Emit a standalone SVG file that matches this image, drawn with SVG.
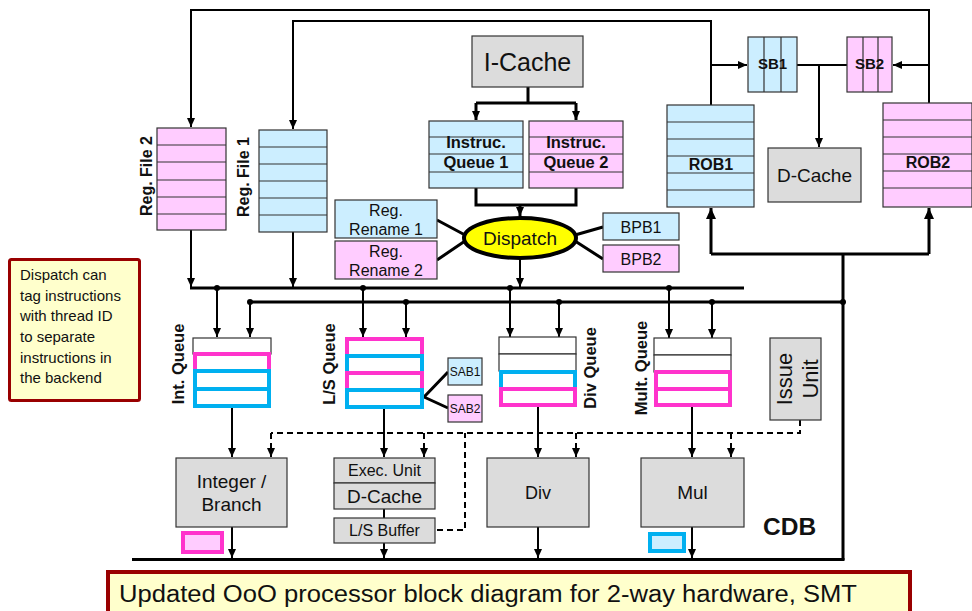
<svg xmlns="http://www.w3.org/2000/svg" width="972" height="611" viewBox="0 0 972 611">
  <defs>
    <marker id="arr" markerUnits="userSpaceOnUse" markerWidth="10" markerHeight="10" refX="9" refY="4" orient="auto">
      <path d="M0,0 L9,4 L0,8 z" fill="#000"/>
    </marker>
    <marker id="arrBig" markerUnits="userSpaceOnUse" markerWidth="12" markerHeight="12" refX="11" refY="5" orient="auto">
      <path d="M0,0 L11,5 L0,10 z" fill="#000"/>
    </marker>
    <style>
      text { font-family: "Liberation Sans", Arial, sans-serif; fill: #111; }
      .b { font-weight: bold; }
      .c { text-anchor: middle; }
      .blueBox { fill: #cceeff; stroke: #333; stroke-width: 1.2; }
      .pinkBox { fill: #ffccff; stroke: #333; stroke-width: 1.2; }
      .grayBox { fill: #dcdcdc; stroke: #333; stroke-width: 1.2; }
      .rowLine { stroke: #333; stroke-width: 1.2; }
      .whiteRow { fill: #fff; stroke: #333; stroke-width: 1.2; }
      .pinkRow { fill: #fff; stroke: #ff33cc; stroke-width: 4; }
      .blueRow { fill: #fff; stroke: #00b0f0; stroke-width: 4; }
      .wire { fill: none; stroke: #000; stroke-width: 2; }
      .thick { fill: none; stroke: #000; stroke-width: 3; }
      .dash { fill: none; stroke: #000; stroke-width: 2; stroke-dasharray: 6 4; }
      .dot { fill: #000; }
    </style>
  </defs>

  <!-- connectors -->
  <g id="connectors">
    <!-- retirement paths back to the register files -->
    <path class="wire" d="M929,103 V10 H191 V127" marker-end="url(#arr)"/>
    <path class="wire" d="M711,105 V21 H293 V129" marker-end="url(#arr)"/>
    <path class="wire" d="M711,65 H747" marker-end="url(#arr)"/>
    <path class="wire" d="M929,65 H893" marker-end="url(#arr)"/>
    <path class="wire" d="M797,65 H847"/>
    <path class="wire" d="M819,65 V147" marker-end="url(#arr)"/>

    <!-- fetch -->
    <path class="thick" d="M528,87 V103 M476,103 H576"/>
    <path class="thick" d="M476,103 V120" marker-end="url(#arr)"/>
    <path class="thick" d="M576,103 V120" marker-end="url(#arr)"/>
    <path class="thick" d="M476,188 V205 H576 V188"/>
    <path class="thick" d="M520,205 V216" marker-end="url(#arr)"/>

    <!-- dispatch side links -->
    <path class="thick" d="M437,220 L465,235 M437,260 L465,241"/>
    <path class="thick" d="M575,235 L603,227 M575,241 L603,259"/>

    <!-- into the operand buses -->
    <path class="wire" d="M520,259 V287" marker-end="url(#arr)"/>
    <path class="wire" d="M191,230 V287" marker-end="url(#arr)"/>
    <path class="wire" d="M293,232 V287" marker-end="url(#arr)"/>
    <path class="thick" d="M190,288 H744"/>
    <path class="thick" d="M250,302 H843"/>

    <!-- CDB return to the ROBs -->
    <path class="thick" d="M843,560 V254"/>
    <path class="thick" d="M711,254 H929"/>
    <path class="thick" d="M711,254 V208" marker-end="url(#arrBig)"/>
    <path class="thick" d="M929,254 V208" marker-end="url(#arrBig)"/>

    <!-- bus taps into the queues -->
    <path class="wire" d="M217,288 V337" marker-end="url(#arr)"/>
    <path class="wire" d="M250,302 V337" marker-end="url(#arr)"/>
    <path class="wire" d="M363,288 V337" marker-end="url(#arr)"/>
    <path class="wire" d="M406,302 V337" marker-end="url(#arr)"/>
    <path class="wire" d="M510,288 V337" marker-end="url(#arr)"/>
    <path class="wire" d="M559,302 V337" marker-end="url(#arr)"/>
    <path class="wire" d="M669,288 V338" marker-end="url(#arr)"/>
    <path class="wire" d="M712,302 V338" marker-end="url(#arr)"/>
    <circle class="dot" cx="217" cy="288" r="3"/>
    <circle class="dot" cx="363" cy="288" r="3"/>
    <circle class="dot" cx="510" cy="288" r="3"/>
    <circle class="dot" cx="669" cy="288" r="3"/>
    <circle class="dot" cx="250" cy="302" r="3"/>
    <circle class="dot" cx="406" cy="302" r="3"/>
    <circle class="dot" cx="559" cy="302" r="3"/>
    <circle class="dot" cx="712" cy="302" r="3"/>
    <circle class="dot" cx="843" cy="302" r="3"/>

    <!-- store address buffers -->
    <path class="thick" d="M424,397 L448,372 M424,397 L448,408"/>

    <!-- queues to units -->
    <path class="wire" d="M232,407 V457" marker-end="url(#arr)"/>
    <path class="wire" d="M384,407 V457" marker-end="url(#arr)"/>
    <path class="wire" d="M538,407 V457" marker-end="url(#arr)"/>
    <path class="wire" d="M692,407 V457" marker-end="url(#arr)"/>

    <!-- issue control -->
    <path class="dash" d="M800,420 V433 H271"/>
    <path class="dash" d="M271,433 V457" marker-end="url(#arr)"/>
    <path class="dash" d="M424,433 V457" marker-end="url(#arr)"/>
    <path class="dash" d="M576,433 V457" marker-end="url(#arr)"/>
    <path class="dash" d="M731,433 V457" marker-end="url(#arr)"/>
    <path class="dash" d="M437,530 H465 V433"/>

    <!-- units onto the CDB -->
    <path class="wire" d="M384,509 V518"/>
    <path class="wire" d="M232,527 V558" marker-end="url(#arr)"/>
    <path class="wire" d="M384,543 V558" marker-end="url(#arr)"/>
    <path class="wire" d="M538,527 V558" marker-end="url(#arr)"/>
    <path class="wire" d="M692,527 V558" marker-end="url(#arr)"/>
    <path class="thick" d="M132,559.5 H844.5"/>
  </g>

  <!-- front end -->
  <g id="icache">
    <rect class="grayBox" x="472" y="36" width="111" height="51"/>
    <text class="c" x="527.5" y="71" font-size="25">I-Cache</text>
  </g>

  <g id="iq1">
    <rect class="blueBox" x="429" y="121" width="94" height="67"/>
    <path class="rowLine" d="M429,137 H523 M429,154 H523 M429,172 H523"/>
    <text class="b c" x="476" y="148" font-size="16.5">Instruc.</text>
    <text class="b c" x="476" y="168" font-size="16.5">Queue 1</text>
  </g>

  <g id="iq2">
    <rect class="pinkBox" x="529" y="121" width="94" height="67"/>
    <path class="rowLine" d="M529,137 H623 M529,154 H623 M529,172 H623"/>
    <text class="b c" x="576" y="148" font-size="16.5">Instruc.</text>
    <text class="b c" x="576" y="168" font-size="16.5">Queue 2</text>
  </g>

  <g id="dispatch">
    <ellipse cx="520" cy="238" rx="56" ry="20" fill="#ffff00" stroke="#000" stroke-width="4"/>
    <text class="c" x="520" y="244.5" font-size="19">Dispatch</text>
  </g>

  <g id="rename1">
    <rect class="blueBox" x="335" y="200" width="102" height="38"/>
    <text class="c" x="386" y="216" font-size="16">Reg.</text>
    <text class="c" x="386" y="235" font-size="16">Rename 1</text>
  </g>

  <g id="rename2">
    <rect class="pinkBox" x="335" y="241" width="102" height="38"/>
    <text class="c" x="386" y="257" font-size="16">Reg.</text>
    <text class="c" x="386" y="276" font-size="16">Rename 2</text>
  </g>

  <g id="bpb1">
    <rect class="blueBox" x="603" y="213" width="76" height="27"/>
    <text class="c" x="641" y="232.5" font-size="16">BPB1</text>
  </g>

  <g id="bpb2">
    <rect class="pinkBox" x="603" y="245" width="76" height="27"/>
    <text class="c" x="641" y="264.5" font-size="16">BPB2</text>
  </g>

  <!-- register files -->
  <g id="regfile2">
    <rect class="pinkBox" x="157" y="128" width="69" height="102"/>
    <path class="rowLine" d="M157,145 H226 M157,162 H226 M157,180 H226 M157,197 H226 M157,214 H226"/>
    <text class="b c" font-size="16" transform="translate(152,176) rotate(-90)">Reg. File 2</text>
  </g>

  <g id="regfile1">
    <rect class="blueBox" x="259" y="130" width="68" height="102"/>
    <path class="rowLine" d="M259,147 H327 M259,164 H327 M259,181 H327 M259,198 H327 M259,215 H327"/>
    <text class="b c" font-size="16" transform="translate(249,177) rotate(-90)">Reg. File 1</text>
  </g>

  <!-- retirement side -->
  <g id="rob1">
    <rect class="blueBox" x="667" y="105" width="87" height="102"/>
    <path class="rowLine" d="M667,122 H754 M667,139 H754 M667,156 H754 M667,173 H754 M667,190 H754"/>
    <text class="b c" x="711" y="170" font-size="16">ROB1</text>
  </g>

  <g id="rob2">
    <rect class="pinkBox" x="883" y="103" width="89" height="104"/>
    <path class="rowLine" d="M883,120 H972 M883,137 H972 M883,154 H972 M883,171 H972 M883,188 H972"/>
    <text class="b c" x="928" y="168" font-size="16">ROB2</text>
  </g>

  <g id="sb1">
    <rect class="blueBox" x="748" y="37" width="49" height="55"/>
    <path class="rowLine" d="M764,37 V92 M781,37 V92"/>
    <text class="b c" x="772.5" y="69" font-size="15">SB1</text>
  </g>

  <g id="sb2">
    <rect class="pinkBox" x="847" y="37" width="45" height="55"/>
    <path class="rowLine" d="M863,37 V92 M878,37 V92"/>
    <text class="b c" x="869.5" y="69" font-size="15">SB2</text>
  </g>

  <g id="dcache">
    <rect class="grayBox" x="768" y="148" width="93" height="54"/>
    <text class="c" x="814.5" y="182" font-size="19">D-Cache</text>
  </g>

  <!-- reservation queues -->
  <g id="intqueue">
    <rect class="whiteRow" x="193" y="338" width="78" height="16"/>
    <rect class="pinkRow" x="195" y="354" width="74" height="17"/>
    <rect class="blueRow" x="195" y="371" width="74" height="18"/>
    <rect class="blueRow" x="195" y="389" width="74" height="17"/>
    <text class="b c" font-size="16.5" transform="translate(184,364) rotate(-90)">Int. Queue</text>
  </g>

  <g id="lsqueue">
    <rect class="pinkRow" x="347" y="339" width="75" height="17"/>
    <rect class="blueRow" x="347" y="356" width="75" height="17"/>
    <rect class="pinkRow" x="347" y="373" width="75" height="17"/>
    <rect class="blueRow" x="347" y="390" width="75" height="17"/>
    <text class="b c" font-size="16.5" transform="translate(335,364) rotate(-90)">L/S Queue</text>
  </g>

  <g id="sab1">
    <rect class="blueBox" x="448" y="358" width="34" height="27"/>
    <text class="c" x="465" y="376" font-size="12">SAB1</text>
  </g>

  <g id="sab2">
    <rect class="pinkBox" x="448" y="395" width="34" height="27"/>
    <text class="c" x="465" y="413" font-size="12">SAB2</text>
  </g>

  <g id="divqueue">
    <rect class="whiteRow" x="499" y="337" width="77" height="17"/>
    <rect class="whiteRow" x="499" y="354" width="77" height="17"/>
    <rect class="blueRow" x="501" y="372" width="74" height="17"/>
    <rect class="pinkRow" x="501" y="389" width="74" height="16"/>
    <text class="b c" font-size="16.5" transform="translate(596,368) rotate(-90)">Div Queue</text>
  </g>

  <g id="multqueue">
    <rect class="whiteRow" x="654" y="338" width="77" height="17"/>
    <rect class="whiteRow" x="654" y="355" width="77" height="17"/>
    <rect class="pinkRow" x="656" y="372" width="74" height="17"/>
    <rect class="pinkRow" x="656" y="389" width="74" height="16"/>
    <text class="b c" font-size="16.5" transform="translate(647,368) rotate(-90)">Mult. Queue</text>
  </g>

  <g id="issueunit">
    <rect class="grayBox" x="770" y="338" width="51" height="82"/>
    <text class="c" font-size="22" transform="translate(792,379) rotate(-90)">Issue</text>
    <text class="c" font-size="22" transform="translate(818,379) rotate(-90)">Unit</text>
  </g>

  <!-- execution units -->
  <g id="intunit">
    <rect class="grayBox" x="176" y="458" width="111" height="69"/>
    <text class="c" x="231.5" y="488" font-size="19">Integer /</text>
    <text class="c" x="231.5" y="511" font-size="19">Branch</text>
    <rect x="183" y="533" width="39" height="19" fill="#ffccff" stroke="#ff33cc" stroke-width="4"/>
  </g>

  <g id="lsunit">
    <rect class="grayBox" x="334" y="458" width="101" height="25"/>
    <text class="c" x="384.5" y="476" font-size="16">Exec. Unit</text>
    <rect class="grayBox" x="334" y="483" width="101" height="26"/>
    <text class="c" x="384.5" y="503" font-size="19">D-Cache</text>
    <rect class="grayBox" x="334" y="518" width="101" height="25"/>
    <text class="c" x="384.5" y="536" font-size="16">L/S Buffer</text>
  </g>

  <g id="divunit">
    <rect class="grayBox" x="487" y="458" width="102" height="69"/>
    <text class="c" x="538" y="499" font-size="18">Div</text>
  </g>

  <g id="mulunit">
    <rect class="grayBox" x="641" y="458" width="103" height="69"/>
    <text class="c" x="692.5" y="499" font-size="19">Mul</text>
    <rect x="650" y="534" width="34" height="17" fill="#cceeff" stroke="#00b0f0" stroke-width="4"/>
  </g>

  <g id="cdb">
    <text class="b" x="763" y="535" font-size="24.5">CDB</text>
  </g>

  <!-- annotations -->
  <g id="note">
    <rect x="9.5" y="259.5" width="130" height="141" fill="#ffffcc" stroke="#990000" stroke-width="3" rx="2"/>
    <text x="20" y="280" font-size="15">Dispatch can</text>
    <text x="20" y="301" font-size="15">tag instructions</text>
    <text x="20" y="321" font-size="15">with thread ID</text>
    <text x="20" y="342" font-size="15">to separate</text>
    <text x="20" y="363" font-size="15">instructions in</text>
    <text x="20" y="383" font-size="15">the backend</text>
  </g>

  <g id="caption">
    <rect x="108" y="572" width="802" height="50" fill="#ffffcc" stroke="#990000" stroke-width="4"/>
    <text x="119" y="602" font-size="23" textLength="738" lengthAdjust="spacingAndGlyphs">Updated OoO processor block diagram for 2-way hardware, SMT</text>
  </g>
</svg>
